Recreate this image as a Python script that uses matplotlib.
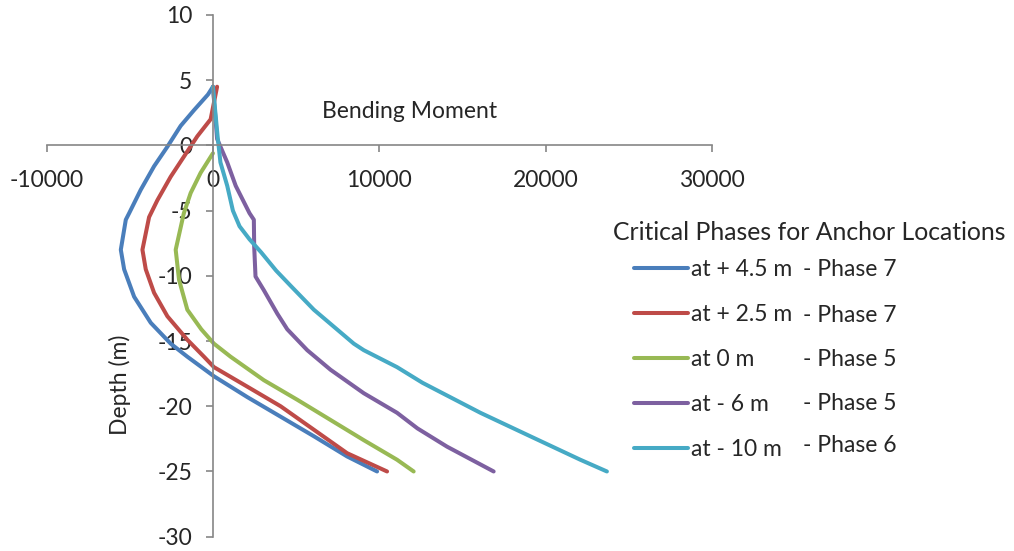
import matplotlib
matplotlib.use("Agg")
import matplotlib.pyplot as plt

plt.rcParams['font.family'] = ['Lato', 'DejaVu Sans']

# Bending moment profiles along the wall: depth [m] and moment, one pair per anchor location
depth_p45 = [4.5, 3.9, 2.7, 1.5, -0.1, -1.6, -3.4, -5.2, -5.7, -8.0, -9.5, -11.6, -13.6, -15.2,
             -16.2, -17.7, -19.3, -20.8, -22.3, -23.85, -25.0]
moment_p45 = [0, -300, -1140, -1940, -2740, -3540, -4340, -5040, -5240, -5540, -5340, -4740, -3740, -2540,
              -1540, 60, 2070, 4070, 6070, 8070, 9870]

depth_p25 = [4.5, 2.0, 0.7, -0.85, -2.4, -4.2, -5.5, -8.0, -9.5, -11.3, -13.1, -14.9, -16.2, -17.0,
             -18.5, -20.0, -21.8, -23.6, -25.0]
moment_p25 = [250, -140, -940, -1740, -2540, -3340, -3840, -4240, -4040, -3540, -2740, -1540, -540, 60,
              2070, 4070, 6070, 8070, 10470]

depth_0 = [-0.6, -2.1, -3.65, -5.2, -8.0, -10.3, -12.6, -14.1, -15.2, -16.2, -18.0, -19.5, -21.05,
           -22.6, -24.1, -25.0]
moment_0 = [0, -740, -1340, -1750, -2240, -2040, -1540, -700, 60, 1060, 3060, 5070, 7070,
            9070, 11070, 12070]

depth_m6 = [4.5, 0.5, -1.3, -3.1, -5.2, -5.7, -7.75, -10.05, -11.1, -12.9, -14.1, -15.7, -17.2,
            -19.0, -20.5, -21.7, -23.1, -25.0]
moment_m6 = [0, 250, 860, 1370, 2200, 2460, 2480, 2560, 3060, 3870, 4470, 5670, 7070,
             9070, 11070, 12300, 14080, 16880]

depth_m10 = [4.5, 0.7, -1.3, -3.1, -5.0, -6.2, -7.2, -8.2, -9.6, -10.8, -12.6, -15.2, -15.7, -17.0,
             -18.2, -20.5, -22.3, -24.1, -25.0]
moment_m10 = [0, 280, 450, 860, 1200, 1600, 2200, 2900, 3800, 4700, 6070, 8470, 9070, 11070,
              12600, 16080, 19080, 22090, 23690]

series_labels = ["at + 4.5 m", "at + 2.5 m", "at 0 m", "at - 6 m", "at - 10 m"]
phase_labels = ["- Phase 7", "- Phase 7", "- Phase 5", "- Phase 5", "- Phase 6"]
colors = ["#4A7EBB", "#BE4B48", "#98B954", "#7D60A0", "#46AAC5"]

x_ticks = [-10000, 0, 10000, 20000, 30000]
y_ticks = [10, 5, 0, -5, -10, -15, -20, -25, -30]

profiles = [(moment_p45, depth_p45), (moment_p25, depth_p25), (moment_0, depth_0),
            (moment_m6, depth_m6), (moment_m10, depth_m10)]

W, H = 1014, 551
fig = plt.figure(figsize=(W / 100, H / 100), dpi=100)
ax = fig.add_axes([0.046, 0.026, 0.656, 0.9468])

handles = []
for (m, d), lab, c in zip(profiles, series_labels, colors):
    h, = ax.plot(m, d, color=c, lw=2.9, solid_capstyle='round', solid_joinstyle='round', label=lab)
    handles.append(h)

ax.set_xlim(-10000, 30000)
ax.set_ylim(-30, 10)

spine_c = "#868686"
text_c = "#262626"
for s in ['top', 'right']:
    ax.spines[s].set_visible(False)
ax.spines['left'].set_position(('data', 0))
ax.spines['bottom'].set_position(('data', 0))
for s in ['left', 'bottom']:
    ax.spines[s].set_color(spine_c)
    ax.spines[s].set_linewidth(1.2)

ax.set_xticks(x_ticks)
ax.set_yticks(y_ticks)
ax.set_xticklabels([str(v) for v in x_ticks])
ax.set_yticklabels([str(v) for v in y_ticks])
ax.tick_params(axis='both', colors=spine_c, labelcolor=text_c, labelsize=16.5,
               length=5, width=1.2, direction='out')
ax.tick_params(axis='x', pad=13)
ax.tick_params(axis='y', pad=10)

fig.text(410 / W, 1 - 112 / H, "Bending Moment", fontsize=16.5, color=text_c,
         ha='center', va='center')
fig.text(120 / W, 1 - 385 / H, "Depth (m)", fontsize=16.5, color=text_c,
         ha='center', va='center', rotation=90)

# legend: title and phase notes as separate text, series entries from the plotted lines
fig.text(613 / W, 1 - 232 / H, "Critical Phases for Anchor Locations", fontsize=17.8,
         color=text_c, ha='left', va='center')
leg = ax.legend(handles=handles, labels=series_labels,
                loc='upper left', bbox_to_anchor=(634 / W, 1 - 259 / H),
                bbox_transform=fig.transFigure, frameon=False, fontsize=16.5,
                handlelength=2.35, handletextpad=0.12,
                labelspacing=1.05, borderpad=0.0, borderaxespad=0.0)
for t in leg.get_texts():
    t.set_color(text_c)

row_y = [270, 315, 359, 404, 446]
for ph, yy in zip(phase_labels, row_y):
    fig.text(803 / W, 1 - yy / H, ph, fontsize=16.5, color=text_c, ha='left', va='center')

fig.savefig("out.png", dpi=100)
